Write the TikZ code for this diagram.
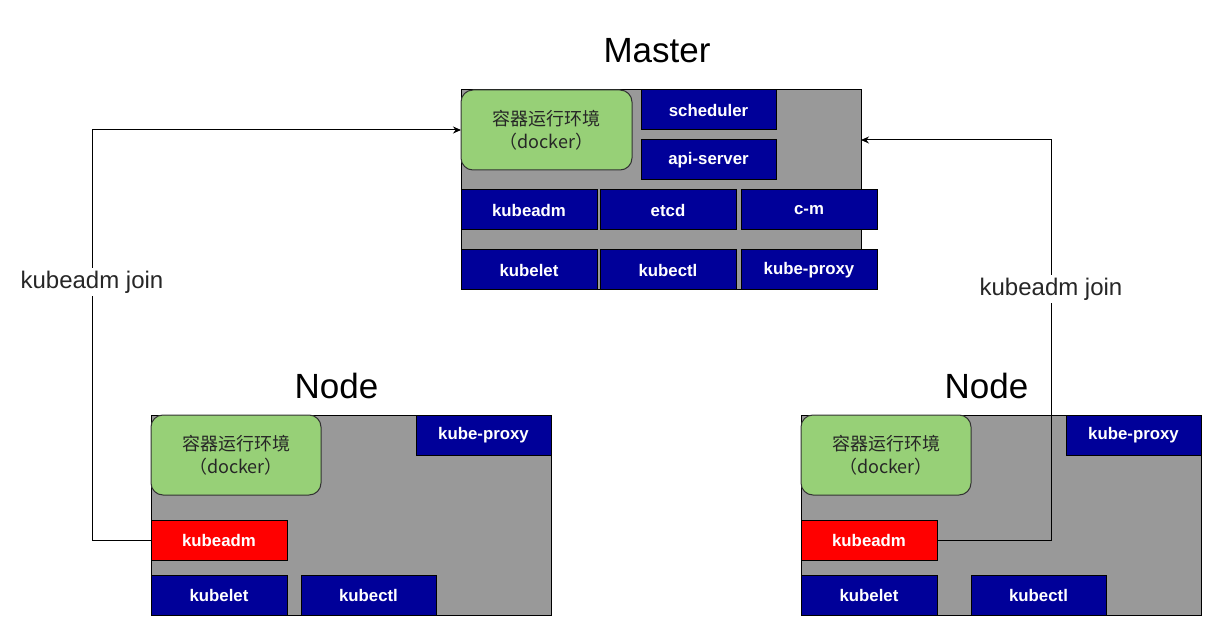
\documentclass[tikz,border=0pt]{standalone}
\usepackage{fontspec}
\setmainfont{Liberation Sans}
\newfontfamily\cjk[RawFeature=+halt]{Noto Sans CJK SC}
\usetikzlibrary{arrows.meta}
\definecolor{boxgray}{HTML}{999999}
\definecolor{navyblue}{HTML}{000099}
\definecolor{leafgreen}{HTML}{97D077}
\begin{document}
\begin{tikzpicture}[x=1pt,y=-1pt,
  hostbox/.style={draw=black, fill=boxgray, line width=1pt, minimum width=400pt, minimum height=200pt, inner sep=0pt, outer sep=0pt},
  comp/.style={draw=black, fill=navyblue, text=white, font=\fontsize{16.8}{19}\selectfont\bfseries, minimum width=136pt, minimum height=40pt, inner sep=0pt, outer sep=0pt, line width=1pt},
  redcomp/.style={comp, fill=red},
  runtime/.style={draw=black!80, fill=leafgreen, rounded corners=12pt, minimum width=170pt, minimum height=80pt, inner sep=0pt, outer sep=0pt, line width=1pt, align=center, text=black!85, font=\cjk\fontsize{18}{23}\selectfont},
  title/.style={font=\fontsize{35}{40}\selectfont, anchor=base, inner sep=0pt},
  joinlbl/.style={fill=white, font=\fontsize{24}{28}\selectfont, inner sep=3pt, text=black!85},
  conn/.style={draw=black, line width=1pt, -{Stealth[length=8pt,width=7pt]}}
]
\useasboundingbox (0,0) rectangle (1223,636);

% Master
\node[title] (mtitle) at (657,63) {Master};
\node[hostbox] (master) at (661,190) {};
\node[runtime, minimum width=171pt] (mgreen) at (546.5,130) {容器运行环境\\（docker）};
\node[comp, minimum width=135pt] (sched) at (708.5,110) {scheduler};
\node[comp, minimum width=135pt] (api) at (708.5,160) {api-server};
\node[comp] (mkubeadm) at (529,210) {kubeadm};
\node[comp] (metcd) at (668,210) {etcd};
\node[comp] (mcm) at (809,210) {c-m};
\node[comp] (mkubelet) at (529,270) {kubelet};
\node[comp] (mkubectl) at (668,270) {kubectl};
\node[comp] (mproxy) at (809,270) {kube-proxy};

% Left node
\node[title] (ltitle) at (336.5,398) {Node};
\node[hostbox] (lnode) at (351,515) {};
\node[runtime] (lgreen) at (236,455) {容器运行环境\\（docker）};
\node[comp, minimum width=135pt] (lproxy) at (483.5,435) {kube-proxy};
\node[redcomp] (lkubeadm) at (219,540) {kubeadm};
\node[comp] (lkubelet) at (219,595) {kubelet};
\node[comp, minimum width=135pt] (lkubectl) at (368.5,595) {kubectl};

% Right node
\node[title] (rtitle) at (986.5,398) {Node};
\node[hostbox] (rnode) at (1001,515) {};
\node[runtime] (rgreen) at (886,455) {容器运行环境\\（docker）};
\node[comp, minimum width=135pt] (rproxy) at (1133.5,435) {kube-proxy};
\node[redcomp] (rkubeadm) at (869,540) {kubeadm};
\node[comp] (rkubelet) at (869,595) {kubelet};
\node[comp, minimum width=135pt] (rkubectl) at (1038.5,595) {kubectl};

% Connectors
\draw[conn] (lkubeadm.west) -- ++(-59,0) |- (mgreen.west);
\draw[conn] (rkubeadm.east) -- ++(114,0) |- (master.east |- api.north);
\node[joinlbl] (ljoin) at (92,282) {kubeadm join};
\node[joinlbl] (rjoin) at (1051,289) {kubeadm join};
\end{tikzpicture}
\end{document}
